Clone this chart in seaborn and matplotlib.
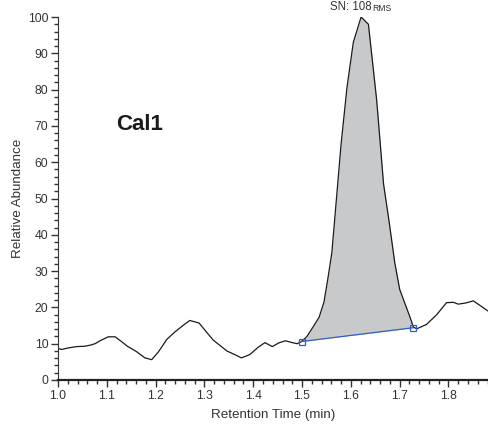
import numpy as np
import matplotlib
matplotlib.use("Agg")
import matplotlib.pyplot as plt
from matplotlib.ticker import MultipleLocator
import seaborn as sns

# chromatogram trace (retention time in min, relative abundance %)
rt = [1.000, 1.007, 1.020, 1.038, 1.055, 1.066, 1.076, 1.086, 1.103, 1.117,
      1.130, 1.141, 1.161, 1.178, 1.192, 1.206, 1.223, 1.240, 1.255, 1.270,
      1.289, 1.303, 1.318, 1.332, 1.346, 1.362, 1.376, 1.393, 1.410, 1.424,
      1.439, 1.452, 1.466, 1.480, 1.490, 1.499, 1.510, 1.522, 1.535, 1.545,
      1.553, 1.561, 1.568, 1.580, 1.592, 1.605, 1.621, 1.636, 1.653, 1.667,
      1.678, 1.690, 1.700, 1.711, 1.721, 1.728, 1.735, 1.755, 1.776, 1.796,
      1.810, 1.820, 1.835, 1.851, 1.865, 1.881]
abundance = [8.7, 8.4, 8.8, 9.2, 9.3, 9.6, 10.0, 10.8, 11.9, 11.9,
             10.6, 9.4, 7.8, 6.1, 5.6, 7.8, 11.2, 13.3, 14.9, 16.4,
             15.7, 13.4, 11.0, 9.5, 8.0, 7.0, 6.1, 7.0, 9.0, 10.3,
             9.2, 10.2, 10.8, 10.3, 10.0, 10.6, 12.0, 14.5, 17.3, 21.5,
             28.0, 35.0, 46.0, 65.0, 80.5, 93.0, 100.0, 98.0, 77.0, 54.0,
             44.0, 32.3, 25.0, 21.0, 17.4, 14.6, 14.1, 15.3, 18.0, 21.3,
             21.4, 20.9, 21.2, 21.8, 20.5, 19.0]

# integration baseline
base_rt = [1.499, 1.728]
base_y = [10.6, 14.4]

sn_value = "SN: 108"
sn_unit = "RMS"
label = "Cal1"

sns.set_style("ticks")
plt.rcParams["font.family"] = ["Liberation Sans", "DejaVu Sans"]

fig = plt.figure(figsize=(4.88, 4.25), dpi=100)
ax = fig.add_axes([58 / 488, 1 - 380 / 425, 1 - 58 / 488, (380 - 17) / 425])

rt_arr = np.array(rt)
ab_arr = np.array(abundance)
mask = (rt_arr >= base_rt[0]) & (rt_arr <= base_rt[1])
base_interp = np.interp(rt_arr[mask], base_rt, base_y)
ax.fill_between(rt_arr[mask], base_interp, ab_arr[mask], color="#c8c9cb", lw=0)

sns.lineplot(x=rt, y=abundance, ax=ax, color="#1a1a1a", lw=0.9)
ax.plot(base_rt, base_y, color="#2f5cc8", lw=0.9, marker="s", ms=4.5,
        mfc="none", mec="#2f5cc8", mew=0.9)

ax.set_xlim(1.0, 1.881)
ax.set_ylim(0, 100)
ax.xaxis.set_major_locator(MultipleLocator(0.1))
ax.xaxis.set_minor_locator(MultipleLocator(0.02))
ax.yaxis.set_major_locator(MultipleLocator(10))
ax.yaxis.set_minor_locator(MultipleLocator(2))
ax.xaxis.set_major_formatter(plt.FuncFormatter(lambda v, p: f"{v:.1f}"))

ax.tick_params(which="major", length=5, width=1, color="#333333",
               labelsize=8.7, labelcolor="#333333", pad=2)
ax.tick_params(which="minor", length=3, width=1, color="#333333")
for side in ["top", "right"]:
    ax.spines[side].set_visible(False)
ax.spines["left"].set_color("#333333")
ax.spines["bottom"].set_color("#222222")
ax.spines["bottom"].set_linewidth(1.6)

ax.set_xlabel("Retention Time (min)", fontsize=9.6, color="#333333", labelpad=5)
ax.set_ylabel("Relative Abundance", fontsize=9.6, color="#333333", labelpad=3)

ax.text(1.643, 101.0, sn_value, ha="right", va="bottom", fontsize=8.3,
        color="#333333", clip_on=False)
ax.text(1.643, 101.0, sn_unit, ha="left", va="bottom", fontsize=6.2,
        color="#333333", clip_on=False)
ax.text(1.168, 70.5, label, ha="center", va="center", fontsize=16,
        fontweight="bold", color="#1a1a1a")

fig.savefig("out.png", dpi=100)
